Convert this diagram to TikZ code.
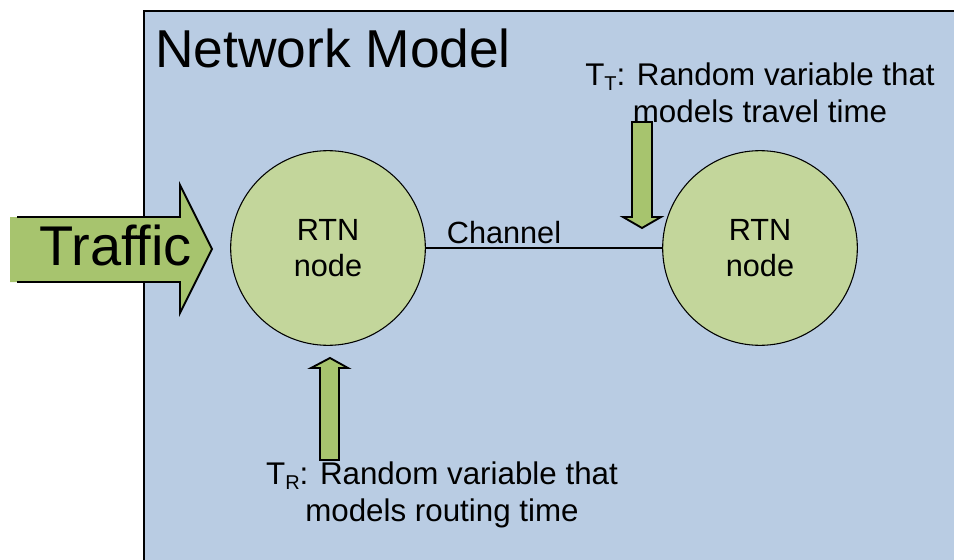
\documentclass[tikz,border=0pt]{standalone}
\usepackage{fontspec}
\setmainfont{Liberation Sans}
\definecolor{boxblue}{HTML}{B9CCE3}
\definecolor{nodegreen}{HTML}{C3D69B}
\definecolor{arrowgreen}{HTML}{A7C46E}
\newcommand{\subT}[1]{\raisebox{-0.28ex}{\fontsize{15}{15}\selectfont #1}}
\begin{document}
\begin{tikzpicture}[x=0.75pt,y=-0.75pt,
  rtn/.style={circle,draw=black,line width=0.8pt,fill=nodegreen,minimum size=146pt,inner sep=0pt,align=center,font=\fontsize{23}{27}\selectfont},
  lbl/.style={align=center,inner sep=0pt,font=\fontsize{23.5}{28}\selectfont},
  fatarrow/.style={fill=arrowgreen,draw=black,line width=1.4pt,line join=miter}]
\useasboundingbox (0,0) rectangle (954,560);
\begin{scope}
\clip (0,0) rectangle (954,560);
\draw[fill=boxblue,line width=2.2pt] (144,11) rectangle (980,600);
\end{scope}
\node[anchor=base west,inner sep=0pt,font=\fontsize{40}{44}\selectfont] (title) at (155,68) {Network Model};
% Traffic arrow
\fill[arrowgreen] (10,217) -- (180,217) -- (180,185) -- (212,249) -- (180,313) -- (180,282) -- (10,282) -- cycle;
\draw[line width=1.4pt,line join=miter] (17,217) -- (180,217) -- (180,185) -- (212,249) -- (180,313) -- (180,282) -- (17,282);
\node[anchor=base west,inner sep=0pt,font=\fontsize{42}{46}\selectfont] (traffic) at (39,265) {Traffic};
% nodes
\node[rtn] (n1) at (328,248) {RTN\\node};
\node[rtn] (n2) at (760,248) {RTN\\node};
\draw[line width=2.2pt] (n1) -- (n2);
\node[anchor=base,inner sep=0pt,font=\fontsize{23}{26}\selectfont] (chan) at (504,243) {Channel};
% TT arrow (down)
\draw[fatarrow] (632,122) -- (652,122) -- (652,217) -- (661,217) -- (642,228) -- (623,217) -- (632,217) -- cycle;
\node[lbl] (tt) at (760,93) {T\subT{T}: Random variable that\\models travel time};
% TR arrow (up)
\draw[fatarrow] (320,460) -- (339,460) -- (339,368) -- (348,368) -- (330,358) -- (311,368) -- (320,368) -- cycle;
\node[lbl] (tr) at (442,495) {T\subT{R}: Random variable that\\models routing time};
\end{tikzpicture}
\end{document}
